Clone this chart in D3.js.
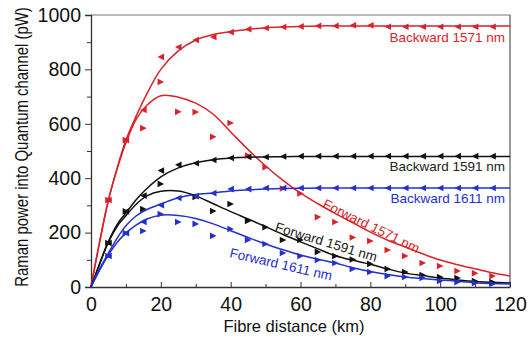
<!DOCTYPE html>
<html>
<head>
<meta charset="utf-8">
<script src="https://cdn.jsdelivr.net/npm/d3@7"></script>
<style>
  body { margin: 0; background: #fff; }
  svg { display: block; font-family: "Liberation Sans", Arial, sans-serif; }
</style>
</head>
<body>
<script>
// km of the measured points and of the fitted curves
const markerKm = [5,10,15,20,25,30,35,40,45,50,55,60,65,70,75,80,85,90,95,100,105,110,115]
const curveKm = [0,2,5,8,10,13,16,20,25,30,35,40,45,50,55,60,65,70,75,80,85,90,95,100,105,110,115,120]

// measured (pW)
const back1571 = [320,540,651,846,882,908,919,937,948,952,956,958,960,960,962,962,957,957,957,957,957,957,957]
const fwd1571 = [320,540,584,754,644,643,552,603,483,440,362,344,257,239,182,169,136,114,88,77,59,51,40]
const back1591 = [162,278,336,428,449,455,467,474,478,478,480,481,481,481,481,481,481,481,481,481,481,481,481]
const fwd1591 = [162,278,287,379,null,331,279,305,243,220,173,173,129,114,101,85,66,55,44,37,33,22,18]
const back1611 = [114,198,239,301,327,334,345,360,360,364,364,364,364,364,364,364,364,364,364,364,364,364,364]
const fwd1611 = [114,198,206,268,239,232,188,213,173,158,125,114,99,88,66,55,40,37,33,22,18,15,11]

// fitted curves (pW)
const back1571Fit = [0,135,320,460,540,630,710,800,868,908,928,939,947,953,956,958,960,960,960,960,960,960,960,960,960,960,960,960]
const fwd1571Fit = [0,135,320,455,530,618,668,703,698,676,635,570,505,445,392,345,306,270,236,202,172,147,122,99,82,67,52,40]
const back1591Fit = [0,70,168,240,272,322,362,405,438,457,468,474,477,478,479,480,480,480,480,480,480,480,480,480,480,480,480,480]
const fwd1591Fit = [0,68,165,232,262,305,335,352,353,335,306,277,250,222,193,166,140,115,98,84,66,51,42,33,26,20,17,15]
const back1611Fit = [0,55,125,190,225,262,285,305,328,340,346,353,357,360,362,363,364,364,364,364,364,364,364,364,364,364,364,364]
const fwd1611Fit = [0,50,118,172,198,228,250,264,263,252,232,207,182,158,137,118,102,88,71,57,46,37,31,26,21,16,13,11]

const yTicks = [0,200,400,600,800,1000]
const xTicks = [0,20,40,60,80,100,120]

const red = "#d8232a", black = "#111", blue = "#2430cc"

const series = [
  {pts: back1571, fit: back1571Fit, color: red, dir: "left"},
  {pts: fwd1571, fit: fwd1571Fit, color: red, dir: "right"},
  {pts: back1591, fit: back1591Fit, color: black, dir: "left"},
  {pts: fwd1591, fit: fwd1591Fit, color: black, dir: "right"},
  {pts: back1611, fit: back1611Fit, color: blue, dir: "left"},
  {pts: fwd1611, fit: fwd1611Fit, color: blue, dir: "right"}
]

const width = 530, height = 338
const margin = {top: 15, right: 20, bottom: 51, left: 91}

const svg = d3.select("body").append("svg")
  .attr("width", width)
  .attr("height", height)

const x = d3.scaleLinear().domain([0, 120]).range([margin.left, width - margin.right])
const y = d3.scaleLinear().domain([0, 1000]).range([height - margin.bottom, margin.top])

// frame
svg.append("line")
  .attr("x1", x(0)).attr("x2", x(120)).attr("y1", y(1000)).attr("y2", y(1000))
  .attr("stroke", "#777").attr("stroke-width", 1.2)
svg.append("line")
  .attr("x1", x(120)).attr("x2", x(120)).attr("y1", y(1000)).attr("y2", y(0))
  .attr("stroke", "#555").attr("stroke-width", 1.2)

// y axis, ticks outside
const yAxis = svg.append("g")
  .attr("transform", "translate(" + x(0) + ",0)")
  .call(d3.axisLeft(y).tickValues(yTicks).tickFormat(d3.format("d")).tickSize(6).tickPadding(4))
yAxis.selectAll(".tick text").attr("font-size", 19.5).attr("fill", "#111")
yAxis.select(".domain").attr("stroke", "#333").attr("stroke-width", 1.3)
yAxis.selectAll(".tick line").attr("stroke", "#333")
svg.append("g")
  .attr("transform", "translate(" + x(0) + ",0)")
  .call(d3.axisLeft(y).tickValues(d3.range(100, 1000, 200)).tickSize(4).tickFormat(""))
  .call(g => g.select(".domain").remove())
  .selectAll("line").attr("stroke", "#333")

// x axis, ticks inside
const xAxis = svg.append("g")
  .attr("transform", "translate(0," + y(0) + ")")
  .call(d3.axisBottom(x).tickValues(xTicks).tickSizeInner(-5).tickSizeOuter(0).tickPadding(10))
xAxis.selectAll(".tick text").attr("font-size", 19.5).attr("fill", "#111")
xAxis.select(".domain").attr("stroke", "#333").attr("stroke-width", 1.3)
xAxis.selectAll(".tick line").attr("stroke", "#333")
svg.append("g")
  .attr("transform", "translate(0," + y(0) + ")")
  .call(d3.axisBottom(x).tickValues(d3.range(10, 120, 20)).tickSizeInner(-3).tickSizeOuter(0).tickFormat(""))
  .call(g => g.select(".domain").remove())
  .selectAll("line").attr("stroke", "#333")

// axis titles
svg.append("text")
  .attr("x", 294).attr("y", 332)
  .attr("text-anchor", "middle")
  .attr("font-size", 16.5)
  .attr("fill", "#111")
  .text("Fibre distance (km)")

svg.append("text")
  .attr("transform", "translate(28,147) rotate(-90) scale(0.83,1)")
  .attr("text-anchor", "middle")
  .attr("font-size", 18)
  .attr("fill", "#111")
  .text("Raman power into Quantum channel (pW)")

// fitted curves
const line = d3.line()
  .x(d => x(d[0]))
  .y(d => y(d[1]))
  .curve(d3.curveCatmullRom.alpha(0.5))

series.forEach(function(s){
  svg.append("path")
    .attr("d", line(curveKm.map((k, i) => [k, s.fit[i]])))
    .attr("fill", "none")
    .attr("stroke", s.color)
    .attr("stroke-width", 1.5)
})

// measured points as triangles
const tri = {
  left: "M-3.3,0L3.3,-3.3L3.3,3.3Z",
  right: "M3.3,0L-3.3,-3.3L-3.3,3.3Z"
}

series.forEach(function(s){
  svg.append("g").selectAll("path")
    .data(markerKm.map((k, i) => [k, s.pts[i]]).filter(d => d[1] != null))
    .enter().append("path")
    .attr("d", tri[s.dir])
    .attr("transform", d => "translate(" + x(d[0]) + "," + y(d[1]) + ")")
    .attr("fill", s.color)
})

// labels
function label(txt, color, px, py, angle, anchor){
  svg.append("text")
    .attr("transform", "translate(" + px + "," + py + ") rotate(" + angle + ")")
    .attr("text-anchor", anchor)
    .attr("font-size", 13.5)
    .attr("fill", color)
    .text(txt)
}

label("Backward 1571 nm", red, x(118.6), y(900), 0, "end")
label("Backward 1591 nm", "#222", x(118.6), y(426), 0, "end")
label("Backward 1611 nm", blue, x(118.6), y(309), 0, "end")
label("Forward 1571 nm", red, x(66.1), y(294), 26, "start")
label("Forward 1591 nm", "#222", x(52.5), y(206), 17, "start")
label("Forward 1611 nm", blue, x(39.5), y(110), 13, "start")
</script>
</body>
</html>
